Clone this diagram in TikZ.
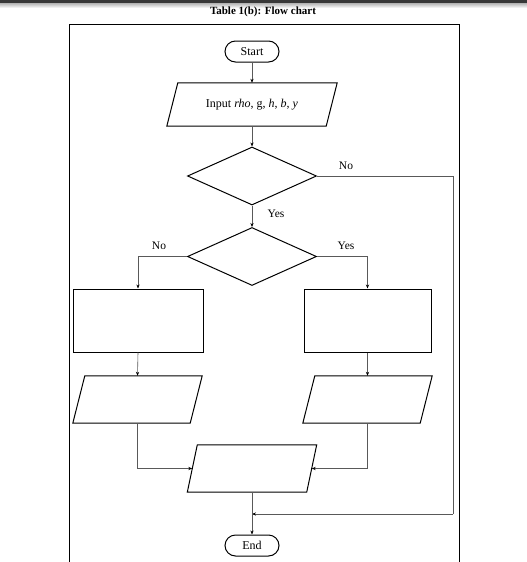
\documentclass[tikz,border=0pt]{standalone}
\usepackage{fontspec}
\setmainfont{Liberation Serif}
\usetikzlibrary{shapes.geometric,arrows.meta,calc}
\begin{document}
\begin{tikzpicture}[x=1pt,y=-1pt,
  shp/.style={draw=black,line width=1pt},
  conn/.style={draw=black!65,line width=0.6pt},
  arr/.style={conn,-{Stealth[length=4pt,width=3.2pt,black]}},
  lbl/.style={font=\fontsize{11.5}{13}\selectfont,inner sep=0pt},
  term/.style={shp,rounded corners=10.5pt,minimum width=54pt,minimum height=21pt,inner sep=0pt,font=\fontsize{12}{14}\selectfont},
  dec/.style={shp,diamond,minimum width=129pt,minimum height=58pt,inner sep=0pt},
  proc/.style={shp,rectangle,minimum height=63pt,inner sep=0pt},
  iobox/.style={minimum width=129pt,minimum height=47pt,inner sep=0pt}
]
\useasboundingbox (0,0) rectangle (527,562);
\clip (0,0) rectangle (527,562);
\fill[black!78] (0,0) rectangle (527,3);
\shade[top color=black!30,bottom color=white] (0,3) rectangle (527,8);
\node[font=\bfseries\fontsize{11}{13}\selectfont,inner sep=0pt] (title) at (263,12) {Table 1(b): Flow chart};
\draw[black,line width=0.9pt] (69,24) rectangle (459,600);

% nodes
\node[term] (start) at (252,51.5) {Start};
\node[minimum width=170pt,minimum height=43pt,inner sep=0pt,font=\fontsize{12}{14}\selectfont] (in) at (252,104.5) {Input \textit{rho}, g, \textit{h}, \textit{b}, \textit{y}};
\draw[shp] ($(in.north west)+(11,0)$) -- (in.north east) -- ($(in.south east)-(11,0)$) -- (in.south west) -- cycle;
\node[dec] (d1) at (252,176) {};
\node[dec] (d2) at (252,256.5) {};
\node[proc,minimum width=130pt] (bl) at (138,320.5) {};
\node[proc,minimum width=127pt] (br) at (367.5,320.5) {};
\node[iobox] (pl) at (137.5,399.5) {};
\draw[shp] ($(pl.north west)+(12,0)$) -- (pl.north east) -- ($(pl.south east)-(12,0)$) -- (pl.south west) -- cycle;
\node[iobox] (pr) at (367.5,399.5) {};
\draw[shp] ($(pr.north west)+(12,0)$) -- (pr.north east) -- ($(pr.south east)-(12,0)$) -- (pr.south west) -- cycle;
\node[iobox] (pc) at (252,468.5) {};
\draw[shp] ($(pc.north west)+(10,0)$) -- (pc.north east) -- ($(pc.south east)-(10,0)$) -- (pc.south west) -- cycle;
\node[term] (end) at (252,545.5) {End};

\coordinate (pcl) at ($(pc.west)+(5,0)$);
\coordinate (pcr) at ($(pc.east)-(5,0)$);
\coordinate (corner) at (453,514);
\coordinate (join) at (252,514);

% connectors
\draw[arr] (start.south) -- (in.north);
\draw[arr] (in.south) -- (d1.north);
\draw[arr] (d1.south) -- (d2.north);
\draw[conn] (d1.east) -| (corner);
\draw[arr] (corner) -- (join);
\draw[arr] (d2.west) -| (bl.north);
\draw[arr] (d2.east) -| (br.north);
\draw[arr] (bl.south) -- (pl.north);
\draw[arr] (br.south) -- (pr.north);
\draw[arr] (pl.south) |- (pcl);
\draw[arr] (pr.south) |- (pcr);
\draw[arr] (pc.south) -- (end.north);

% labels
\node[lbl] (no1) at (346,166) {No};
\node[lbl] (yes1) at (276,213.5) {Yes};
\node[lbl] (no2) at (159,246) {No};
\node[lbl] (yes2) at (346,246) {Yes};
\end{tikzpicture}
\end{document}
